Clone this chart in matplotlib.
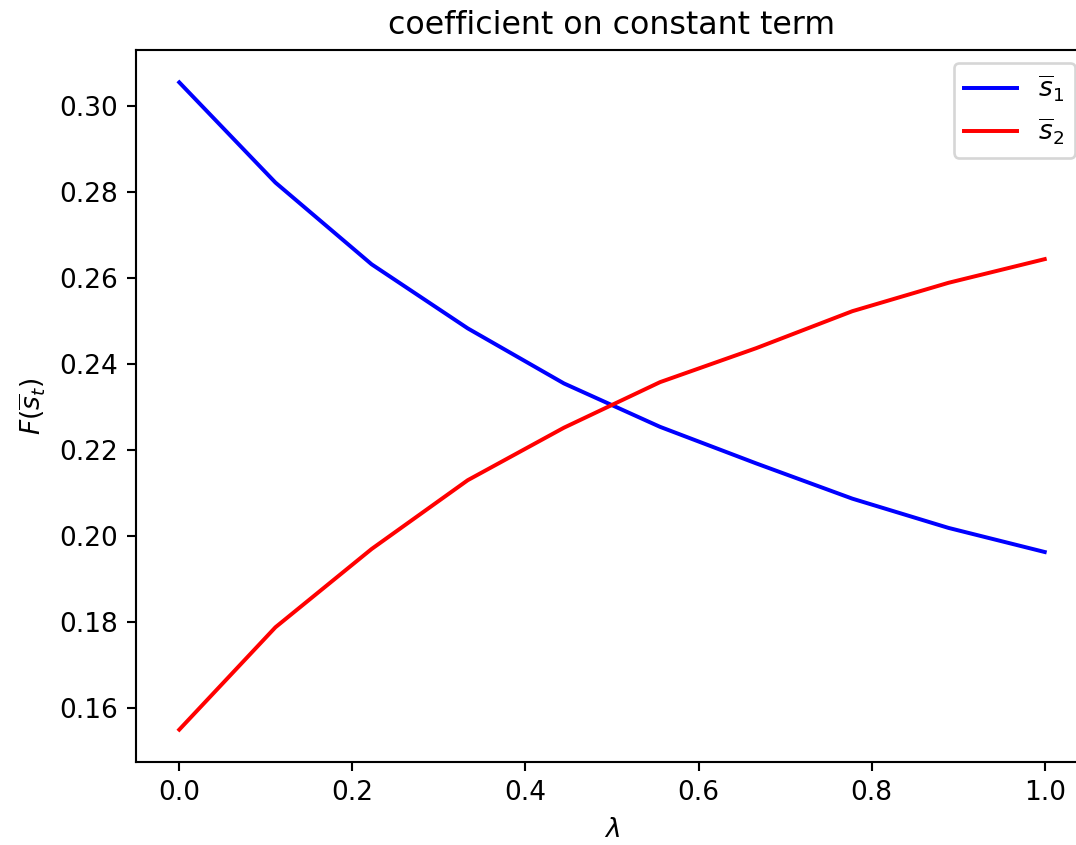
import numpy as np
import matplotlib
matplotlib.use('Agg')
import matplotlib.pyplot as plt

# 数据：lambda 取 0 到 1 的 10 个点
lambdas = np.linspace(0, 1, 10)
s1_coef = [0.3054, 0.2821, 0.2631, 0.2482, 0.2354, 0.2253, 0.2168, 0.2086, 0.2018, 0.1962]
s2_coef = [0.1549, 0.1787, 0.1969, 0.2129, 0.2251, 0.2357, 0.2436, 0.2522, 0.2588, 0.2643]

dpi = 190
fig = plt.figure(figsize=(1076 / dpi, 845 / dpi), dpi=dpi)
# 右侧坐标轴超出画布（原图被裁掉了右边框）
ax = fig.add_axes([136 / 1076, 1 - 762 / 845, (1088 - 136) / 1076, (762 - 50) / 845])

ax.plot(lambdas, s1_coef, color='blue', label=r'$\overline{s}_1$')
ax.plot(lambdas, s2_coef, color='red', label=r'$\overline{s}_2$')

ax.set_xlabel(r'$\lambda$')
ax.set_ylabel(r'$F(\overline{s}_t)$')
ax.set_title('coefficient on constant term')
ax.legend()

fig.savefig('out.png', dpi=dpi)
